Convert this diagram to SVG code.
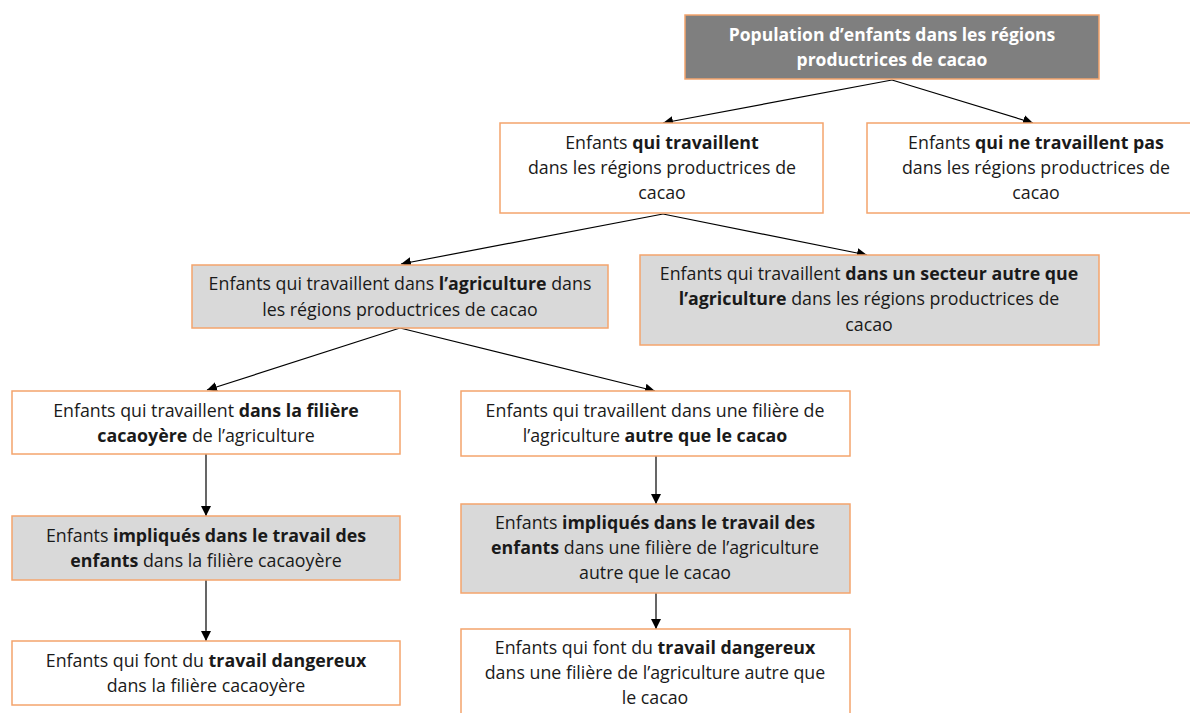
<svg xmlns="http://www.w3.org/2000/svg" width="1190" height="713" viewBox="0 0 1190 713">
<defs>
<marker id="ah" viewBox="0 0 10 10" refX="10" refY="5" markerWidth="10" markerHeight="10" markerUnits="userSpaceOnUse" orient="auto">
<path d="M0,0 L10,5 L0,10 z" fill="#000"/>
</marker>
<style>
.box{stroke:#f4a46c;stroke-width:1.5}
.w{fill:#ffffff}
.g{fill:#d9d9d9}
.d{fill:#7f7f7f}
text{font-family:"Open Sans","Liberation Sans",sans-serif;font-size:17.8px;fill:#1a1a1a;text-anchor:middle}
.wt{fill:#ffffff;font-weight:bold;font-size:17.5px}
.b{font-weight:bold}
.c{stroke:#000;stroke-width:1.2;fill:none;marker-end:url(#ah)}
</style>
</defs>
<rect width="1190" height="713" fill="#ffffff"/>
<g id="connectors">
<line class="c" x1="892" y1="80" x2="663" y2="123"/>
<line class="c" x1="892" y1="80" x2="1033" y2="123"/>
<line class="c" x1="663" y1="214" x2="401" y2="264"/>
<line class="c" x1="663" y1="214" x2="867" y2="255"/>
<line class="c" x1="400" y1="328" x2="207" y2="390"/>
<line class="c" x1="400" y1="328" x2="655" y2="391"/>
<line class="c" x1="206" y1="454" x2="206" y2="516"/>
<line class="c" x1="206" y1="580" x2="206" y2="641"/>
<line class="c" x1="656" y1="456" x2="656" y2="504"/>
<line class="c" x1="656" y1="593" x2="656" y2="629"/>
</g>
<g id="n-population">
<rect class="box d" x="685" y="15" width="414" height="64"/>
<text class="wt" x="892" y="41">Population d’enfants dans les régions</text>
<text class="wt" x="892" y="66">productrices de cacao</text>
</g>
<g id="n-travaillent">
<rect class="box w" x="500" y="123" width="323" height="90"/>
<text x="662" y="149">Enfants <tspan class="b">qui travaillent</tspan></text>
<text x="662" y="174">dans les régions productrices de</text>
<text x="662" y="199">cacao</text>
</g>
<g id="n-ne-travaillent-pas">
<rect class="box w" x="867" y="123" width="330" height="90"/>
<text x="1036" y="149">Enfants <tspan class="b">qui ne travaillent pas</tspan></text>
<text x="1036" y="174">dans les régions productrices de</text>
<text x="1036" y="199">cacao</text>
</g>
<g id="n-agriculture">
<rect class="box g" x="192" y="265" width="416" height="63"/>
<text x="400" y="290">Enfants qui travaillent dans <tspan class="b">l’agriculture</tspan> dans</text>
<text x="400" y="316">les régions productrices de cacao</text>
</g>
<g id="n-autre-secteur">
<rect class="box g" x="640" y="255" width="459" height="90"/>
<text x="869" y="280">Enfants qui travaillent <tspan class="b">dans un secteur autre que</tspan></text>
<text x="869" y="305"><tspan class="b">l’agriculture</tspan> dans les régions productrices de</text>
<text x="869" y="331">cacao</text>
</g>
<g id="n-cacaoyere">
<rect class="box w" x="12" y="391" width="388" height="63"/>
<text x="206" y="417">Enfants qui travaillent <tspan class="b">dans la filière</tspan></text>
<text x="206" y="442"><tspan class="b">cacaoyère</tspan> de l’agriculture</text>
</g>
<g id="n-autre-cacao">
<rect class="box w" x="461" y="391" width="389" height="65"/>
<text x="655" y="417">Enfants qui travaillent dans une filière de</text>
<text x="655" y="442">l’agriculture <tspan class="b">autre que le cacao</tspan></text>
</g>
<g id="n-impliques-cacao">
<rect class="box g" x="12" y="516" width="388" height="64"/>
<text x="206" y="542">Enfants <tspan class="b">impliqués dans le travail des</tspan></text>
<text x="206" y="567"><tspan class="b">enfants</tspan> dans la filière cacaoyère</text>
</g>
<g id="n-impliques-autre">
<rect class="box g" x="461" y="504" width="389" height="89"/>
<text x="655" y="529">Enfants <tspan class="b">impliqués dans le travail des</tspan></text>
<text x="655" y="554"><tspan class="b">enfants</tspan> dans une filière de l’agriculture</text>
<text x="655" y="579">autre que le cacao</text>
</g>
<g id="n-dangereux-cacao">
<rect class="box w" x="12" y="641" width="388" height="64"/>
<text x="206" y="667">Enfants qui font du <tspan class="b">travail dangereux</tspan></text>
<text x="206" y="692">dans la filière cacaoyère</text>
</g>
<g id="n-dangereux-autre">
<rect class="box w" x="461" y="629" width="389" height="90"/>
<text x="655" y="654">Enfants qui font du <tspan class="b">travail dangereux</tspan></text>
<text x="655" y="679">dans une filière de l’agriculture autre que</text>
<text x="655" y="704">le cacao</text>
</g>
</svg>
